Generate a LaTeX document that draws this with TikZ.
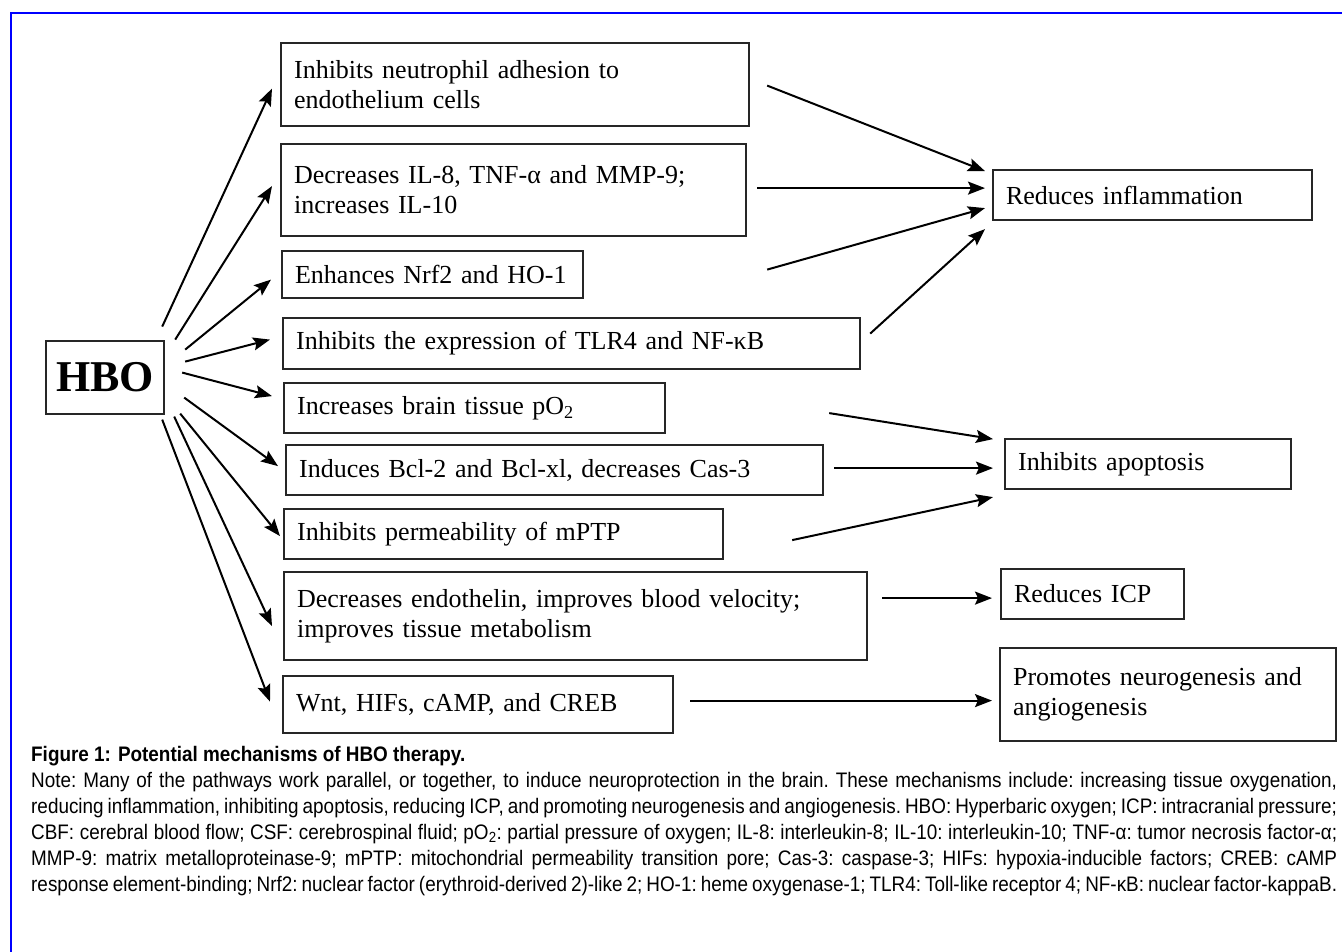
\documentclass[tikz,border=0pt]{standalone}
\usepackage{fontspec}
\setmainfont{Liberation Serif}
\newfontfamily\capfont[FakeStretch=0.9]{Liberation Sans}
\usetikzlibrary{arrows.meta}
\newcommand\capline[1]{\hbox to 1306pt{#1}}
\tikzset{
  box/.style={draw=black!85,line width=2.2pt,anchor=north west,inner xsep=13pt,inner ysep=0pt,
    align=left,font=\fontsize{26}{30}\selectfont},
  arr/.style={line width=2pt,-{Stealth[length=17pt,width=13pt,inset=3pt]}},
}
\begin{document}
\begin{tikzpicture}[x=1pt,y=-1pt]
      \useasboundingbox(0,0)rectangle(1342,952);
      \draw[blue,line width=2pt](11,1000)--(11,13)--(1400,13);
      % HBO and the middle column
      \node[box,inner xsep=0pt,minimum width=118pt,minimum height=73pt,align=center,
            font=\fontsize{44}{44}\selectfont\bfseries](hbo)at(45,340){HBO};
      \foreach \n/\x/\y/\w/\h/\t in{%
        m1/280/42/468/83/{Inhibits neutrophil adhesion to\\endothelium cells},
        m2/280/143/465/92/{Decreases IL-8, TNF-α and MMP-9;\\increases IL-10},
        m3/281/250/301/47/{Enhances Nrf2 and HO-1},
        m4/282/317/577/51/{Inhibits the expression of TLR4 and NF-κB},
        m5/283/382/381/50/{Increases brain tissue pO\textsubscript{2}},
        m6/285/444/537/50/{Induces Bcl-2 and Bcl-xl, decreases Cas-3},
        m7/283/508/439/50/{Inhibits permeability of mPTP},
        m8/283/571/583/88/{Decreases endothelin, improves blood velocity;\\improves tissue metabolism},
        m9/282/675/390/57/{Wnt, HIFs, cAMP, and CREB},
        r1/992/169/319/50/{Reduces inflammation},
        r2/1004/438/286/50/{Inhibits apoptosis},
        r3/1000/568/183/50/{Reduces ICP},
        r4/999/647/336/93/{Promotes neurogenesis and\\angiogenesis}}{%
        \node[box,text width=\w pt-26pt,minimum height=\h pt](\n)at(\x,\y){\t};
      }
      % arrows out of HBO
      \foreach \m/\sx/\sy/\ex/\ey in{%
        m1/-3/-51/-8/4, m2/10/-38/-8/-4, m3/20/-28/-10/5, m4/20/-16/-12/-4, m5/17/-5/-11/-12,
        m6/19/20/-7/-4, m7/15/36/-3/2, m8/9/39/-11/10, m9/-3/42/-12/-3}{%
        \draw[arr]([shift={(\sx,\sy)}]hbo.east)--([shift={(\ex,\ey)}]\m.west);
      }
      % arrows into the outcomes
      \foreach \m/\r/\sx/\sy/\ex/\ey in{%
        m1/r1/17/1/-7/-24, m2/r1/10/-2/-7/-7, m3/r1/183/-5/-7/13, m4/r1/9/-10/-7/34,
        m5/r2/163/5/-11/-25, m6/r2/10/-2/-11/4, m7/r2/68/6/-11/33,
        m8/r3/14/-18/-8/4, m9/r4/16/-4/-7/6}{%
        \draw[arr]([shift={(\sx,\sy)}]\m.east)--([shift={(\ex,\ey)}]\r.west);
      }
      % caption
      \node[anchor=north west,inner sep=0pt,font=\capfont\fontsize{21}{26}\selectfont\bfseries](figcap)
           at(31,746){Figure 1: Potential mechanisms of HBO therapy.};
      \node[anchor=north west,inner sep=0pt,font=\capfont\fontsize{21}{26}\selectfont\frenchspacing](capnote)
           at(31,772){\vbox{\baselineskip=26pt
        \capline{Note: Many of the pathways work parallel, or together, to induce neuroprotection in the brain. These mechanisms include: increasing tissue oxygenation,}
        \capline{reducing inflammation, inhibiting apoptosis, reducing ICP, and promoting neurogenesis and angiogenesis. HBO: Hyperbaric oxygen; ICP: intracranial pressure;}
        \capline{CBF: cerebral blood flow; CSF: cerebrospinal fluid; pO\textsubscript{2}: partial pressure of oxygen; IL-8: interleukin-8; IL-10: interleukin-10; TNF-α: tumor necrosis factor-α;}
        \capline{MMP-9: matrix metalloproteinase-9; mPTP: mitochondrial permeability transition pore; Cas-3: caspase-3; HIFs: hypoxia-inducible factors; CREB: cAMP}
        \capline{response element-binding; Nrf2: nuclear factor (erythroid-derived 2)-like 2; HO-1: heme oxygenase-1; TLR4: Toll-like receptor 4; NF-κB: nuclear factor-kappaB.}}};
\end{tikzpicture}
\end{document}
